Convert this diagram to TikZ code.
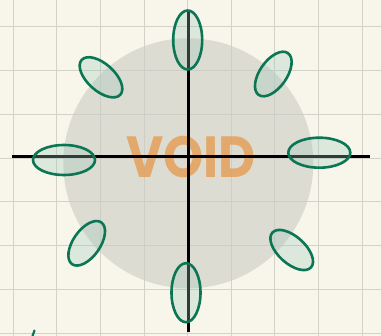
\documentclass[tikz,border=0pt]{standalone}
\usepackage{fontspec}
\setsansfont{Poppins}
\definecolor{paper}{RGB}{248,246,235}
\definecolor{gridgray}{RGB}{210,210,200}
\definecolor{voidgray}{RGB}{203,204,195}
\definecolor{ringgreen}{RGB}{10,118,84}
\definecolor{voidorange}{RGB}{228,160,90}
\usetikzlibrary{positioning}

\tikzset{
  lobe/.style={draw=ringgreen, line width=2.6pt, fill=ringgreen!40, fill opacity=0.3},
  axis/.style={draw=black, line width=2.8pt}
}

\begin{document}
\begin{tikzpicture}[x=1pt,y=-1pt]
  % Paper and grid
  \fill[paper] (0,0) rectangle (381,336);
  \useasboundingbox (0,0) rectangle (381,336);
  \foreach \gx in {13.3,56.9,100.5,144.1,187.7,231.3,274.9,318.5,362.1}
    \draw[gridgray, line width=1pt] (\gx,0) -- (\gx,336);
  \foreach \gy in {26.7,70.5,114.3,158.1,201.9,245.7,289.5,333.3}
    \draw[gridgray, line width=1pt] (0,\gy) -- (381,\gy);

  % Void disc
  \fill[voidgray, opacity=0.6] (188.3,163.3) circle (125);

  % Label
  \node[font=\sffamily\bfseries\fontsize{58}{58}\selectfont, text=voidorange, text opacity=0.85, xscale=0.88] (voidlabel) at (191,157) {VOID};

  % Axes
  \coordinate (xl) at (11.7,156.7);
  \coordinate (xr) at (370,156.7);
  \coordinate (yt) at (188.3,10);
  \coordinate (yb) at (188.3,331.7);
  \draw[axis] (xl) -- (xr);
  \draw[axis] (yt) -- (yb);

  % Lobes on the axes
  \draw[lobe] (187.7,40) ellipse [x radius=14.5, y radius=29.5];
  \draw[lobe] (186,292.7) ellipse [x radius=14.5, y radius=29.5];
  \draw[lobe] (64,160) ellipse [x radius=31, y radius=15];
  \draw[lobe] (319.3,152.7) ellipse [x radius=31, y radius=15];

  % Lobes on the diagonals
  \draw[lobe, rotate around={-42:(101,77.3)}] (101,77.3) ellipse [x radius=26, y radius=13.5];
  \draw[lobe, rotate around={55:(273.3,74)}] (273.3,74) ellipse [x radius=25.5, y radius=13.5];
  \draw[lobe, rotate around={55:(86.7,243.3)}] (86.7,243.3) ellipse [x radius=25.5, y radius=13.5];
  \draw[lobe, rotate around={-42:(291.7,250)}] (291.7,250) ellipse [x radius=26, y radius=13.5];

  % Stray pen mark
  \draw[ringgreen, line width=2.2pt, line cap=round] (32.5,336) -- (34.5,330.5);
\end{tikzpicture}
\end{document}
